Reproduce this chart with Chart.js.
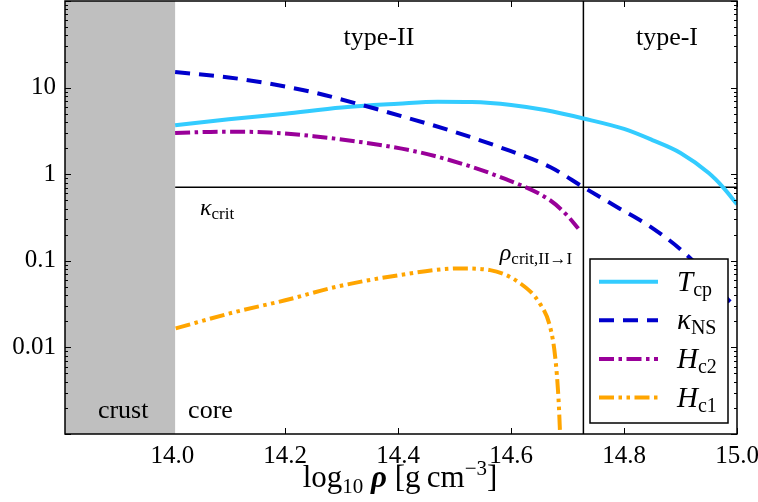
<!DOCTYPE html>
<html>
<head>
<meta charset="utf-8">
<script src="https://cdn.jsdelivr.net/npm/chart.js@4.4.1/dist/chart.umd.min.js"></script>
<style>
  html, body { margin: 0; padding: 0; background: #fff; }
</style>
</head>
<body>
<canvas id="superChart" width="758" height="502"></canvas>
<script>
const rhoMin = 13.81, rhoMax = 15.0;
const yMin = 0.001, yMax = 100;
const crustEdge = 14.005;      // end of the crust (grey band)
const rhoCrit = 14.728;        // type-II -> type-I transition
const kappaCrit = 1 / Math.SQRT2;

const xTicks = [14.0, 14.2, 14.4, 14.6, 14.8, 15.0];
const yTicks = [0.01, 0.1, 1, 10];
const yTickLabels = ['0.01', '0.1', '1', '10'];

// T_cp
const tcpRho = [14.005, 14.1, 14.2, 14.3, 14.4, 14.47, 14.53, 14.6, 14.66, 14.728, 14.8, 14.85, 14.9, 14.95, 14.975, 15.0];
const tcpVal = [3.67, 4.3, 5.0, 5.9, 6.5, 6.85, 6.8, 6.3, 5.5, 4.4, 3.33, 2.48, 1.76, 1.03, 0.71, 0.45];
// kappa_NS
const kapRho = [14.005, 14.1, 14.172, 14.25, 14.332, 14.41, 14.492, 14.58, 14.669, 14.728, 14.788, 14.847, 14.905, 14.95, 14.985, 15.0];
const kapVal = [15.1, 13.1, 11.1, 8.8, 6.4, 4.6, 3.2, 2.05, 1.21, 0.708, 0.416, 0.247, 0.127, 0.065, 0.0352, 0.0285];
// H_c2
const hc2Rho = [14.005, 14.09, 14.172, 14.25, 14.332, 14.421, 14.492, 14.58, 14.669, 14.70, 14.719];
const hc2Val = [2.99, 3.1, 3.03, 2.75, 2.36, 1.89, 1.45, 0.93, 0.50, 0.33, 0.236];
// H_c1
const hc1Rho = [14.006, 14.113, 14.2, 14.29, 14.4, 14.51, 14.563, 14.616, 14.651, 14.669, 14.678, 14.684, 14.687];
const hc1Val = [0.0166, 0.0258, 0.035, 0.050, 0.068, 0.0817, 0.078, 0.055, 0.032, 0.0173, 0.0078, 0.0025, 0.0009];

const SERIF = '"Liberation Serif", "DejaVu Serif", serif';
Chart.defaults.font.family = SERIF;
const pts = (xs, ys) => xs.map((x, i) => ({ x: x, y: ys[i] }));

const series = [
  { label: 'T', sub: 'cp', rho: tcpRho, val: tcpVal, color: '#33ccff', dash: [] },
  { label: '\u03ba', sub: 'NS', rho: kapRho, val: kapVal, color: '#0000cc', dash: [15, 9] },
  { label: 'H', sub: 'c2', rho: hc2Rho, val: hc2Val, color: '#990099', dash: [15, 4.5, 3.5, 4.5] },
  { label: 'H', sub: 'c1', rho: hc1Rho, val: hc1Val, color: '#ffa500', dash: [15, 4.5, 3.5, 4.5, 3.5, 4.5] }
];

// text with sub/superscripts, parts = [{t, f, dy}]
function rich(ctx, parts, x, y, align) {
  let w = 0;
  parts.forEach(p => { ctx.font = p.f; p.w = ctx.measureText(p.t).width; w += p.w; });
  let cx = align === 'center' ? x - w / 2 : x;
  ctx.textAlign = 'left';
  ctx.textBaseline = 'alphabetic';
  parts.forEach(p => { ctx.font = p.f; ctx.fillText(p.t, cx, y + (p.dy || 0)); cx += p.w; });
}

const backdrop = {
  id: 'backdrop',
  beforeDatasetsDraw(chart) {
    const ctx = chart.ctx, a = chart.chartArea, xs = chart.scales.x, ys = chart.scales.y;
    ctx.save();
    // kappa_crit line and transition line
    ctx.strokeStyle = '#000';
    ctx.lineWidth = 1.5;
    ctx.beginPath();
    ctx.moveTo(xs.getPixelForValue(crustEdge), ys.getPixelForValue(kappaCrit));
    ctx.lineTo(a.right, ys.getPixelForValue(kappaCrit));
    ctx.moveTo(xs.getPixelForValue(rhoCrit), a.top);
    ctx.lineTo(xs.getPixelForValue(rhoCrit), a.bottom);
    ctx.stroke();
    // crust band
    ctx.fillStyle = '#bfbfbf';
    ctx.fillRect(a.left, a.top, xs.getPixelForValue(crustEdge) - a.left, a.bottom - a.top);
    ctx.restore();
  }
};

const overlay = {
  id: 'overlay',
  afterDatasetsDraw(chart) {
    const ctx = chart.ctx, a = chart.chartArea, xs = chart.scales.x, ys = chart.scales.y;
    ctx.save();
    ctx.fillStyle = '#000';
    const big = '26px ' + SERIF;
    rich(ctx, [{ t: 'type-II', f: big }], xs.getPixelForValue(14.366), 45, 'center');
    rich(ctx, [{ t: 'type-I', f: big }], xs.getPixelForValue(14.876), 45, 'center');
    rich(ctx, [{ t: 'crust', f: big }], xs.getPixelForValue(13.913), 418, 'center');
    rich(ctx, [{ t: 'core', f: big }], xs.getPixelForValue(14.028), 418, 'left');
    rich(ctx, [{ t: '\u03ba', f: 'italic 24px ' + SERIF }, { t: 'crit', f: '17px ' + SERIF, dy: 4 }],
      xs.getPixelForValue(14.049), ys.getPixelForValue(0.338), 'left');
    rich(ctx, [{ t: '\u03c1', f: 'italic 24px ' + SERIF }, { t: 'crit,II\u2192I', f: '17px ' + SERIF, dy: 4 }],
      xs.getPixelForValue(14.58), ys.getPixelForValue(0.102), 'left');

    // legend
    const lx = 590, ly = 259, lw = 138, lh = 164;
    ctx.fillStyle = '#fff';
    ctx.fillRect(lx, ly, lw, lh);
    ctx.strokeStyle = '#000';
    ctx.lineWidth = 1.5;
    ctx.strokeRect(lx, ly, lw, lh);
    series.forEach((s, i) => {
      const ry = 281.7 + i * 38.6;
      ctx.strokeStyle = s.color;
      ctx.lineWidth = 4;
      ctx.setLineDash(s.dash);
      ctx.beginPath();
      ctx.moveTo(599, ry);
      ctx.lineTo(658, ry);
      ctx.stroke();
      ctx.setLineDash([]);
      ctx.fillStyle = '#000';
      rich(ctx, [{ t: s.label, f: 'italic 29px ' + SERIF }, { t: s.sub, f: '20px ' + SERIF, dy: 5 }], 677, ry + 9, 'left');
    });

    // ticks pointing inwards on all four sides
    ctx.strokeStyle = '#000';
    ctx.lineWidth = 1;
    ctx.beginPath();
    xTicks.forEach(v => {
      if (v <= crustEdge) return;
      const px = Math.round(xs.getPixelForValue(v)) + 0.5;
      ctx.moveTo(px, a.bottom); ctx.lineTo(px, a.bottom - 6);
      ctx.moveTo(px, a.top); ctx.lineTo(px, a.top + 6);
    });
    for (let d = -3; d <= 2; d++) {
      for (let m = 1; m <= 9; m++) {
        const v = m * Math.pow(10, d);
        if (v < yMin || v > yMax) continue;
        const py = Math.round(ys.getPixelForValue(v)) + 0.5;
        const len = m === 1 ? 6 : 3;
        ctx.moveTo(a.left, py); ctx.lineTo(a.left + len, py);
        ctx.moveTo(a.right, py); ctx.lineTo(a.right - len, py);
      }
    }
    ctx.stroke();
    // frame
    ctx.lineWidth = 1.5;
    ctx.strokeRect(a.left, a.top, a.right - a.left, a.bottom - a.top);

    // x axis title
    const tf = '31px ' + SERIF;
    rich(ctx, [
      { t: 'log', f: tf },
      { t: '10', f: '21px ' + SERIF, dy: 6 },
      { t: ' ', f: tf },
      { t: '\u03c1', f: 'italic bold 31px ' + SERIF },
      { t: ' [g\u2009cm', f: tf },
      { t: '\u22123', f: '21px ' + SERIF, dy: -12 },
      { t: ']', f: tf }
    ], 400, 487, 'center');
    ctx.restore();
  }
};

const ctx = document.getElementById('superChart').getContext('2d');
const superChart = new Chart(ctx, {
  type: 'line',
  data: {
    datasets: series.map((s, i) => ({
      label: s.label + s.sub,
      data: pts(s.rho, s.val),
      borderColor: s.color,
      borderWidth: 4,
      borderDash: s.dash,
      borderCapStyle: 'butt',
      pointRadius: 0,
      fill: false,
      cubicInterpolationMode: 'monotone',
      clip: 0,
      order: series.length - i
    }))
  },
  options: {
    responsive: false,
    animation: false,
    devicePixelRatio: 1,
    layout: { padding: { top: 1, right: 21, left: 0, bottom: 0 } },
    plugins: {
      legend: { display: false },
      tooltip: { enabled: false }
    },
    scales: {
      x: {
        type: 'linear',
        min: rhoMin,
        max: rhoMax,
        grid: { display: false, drawTicks: false },
        border: { display: false },
        ticks: {
          color: '#000',
          font: { family: SERIF, size: 25 },
          padding: 7,
          maxRotation: 0,
          callback: v => v.toFixed(1)
        },
        afterBuildTicks: s => { s.ticks = xTicks.map(v => ({ value: v })); },
        afterFit: s => { s.height = 68; s.paddingLeft = 0; s.paddingRight = 0; }
      },
      y: {
        type: 'logarithmic',
        min: yMin,
        max: yMax,
        grid: { display: false, drawTicks: false },
        border: { display: false },
        ticks: {
          color: '#000',
          font: { family: SERIF, size: 25 },
          padding: 9,
          callback: v => yTickLabels[yTicks.indexOf(v)]
        },
        afterBuildTicks: s => { s.ticks = yTicks.map(v => ({ value: v })); },
        afterFit: s => { s.width = 65; s.paddingTop = 0; s.paddingBottom = 0; }
      }
    }
  },
  plugins: [backdrop, overlay]
});
</script>
</body>
</html>
